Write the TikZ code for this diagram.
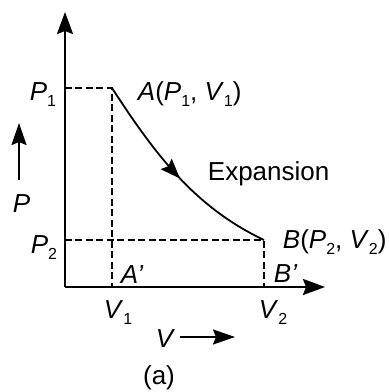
\documentclass[tikz,border=0pt]{standalone}
\usepackage{fontspec}
\setmainfont{Liberation Sans}
\usetikzlibrary{arrows.meta,decorations.markings}

\newcommand{\vsub}[2]{\textit{#1}\raisebox{-6pt}{\fontsize{16}{18}\selectfont #2}}

\begin{document}
\begin{tikzpicture}[x=10pt, y=10pt, line width=1.9pt,
  every node/.style={font=\fontsize{26}{30}\selectfont, inner sep=0pt},
  axis/.style={-{Stealth[length=22pt,width=16pt,inset=3pt]}, line width=2.2pt},
  guide/.style={dash pattern=on 7pt off 3.5pt, line width=2pt},
  pointer/.style={-{Stealth[length=22pt,width=15pt,inset=3pt]}, line width=2.1pt}]
  \useasboundingbox (-6.5,-10.5) rectangle (32.4,28.7);

  % Axes
  \coordinate (O) at (0,0);
  \coordinate (Ptop) at (0,27.5);
  \coordinate (Vend) at (26,0);
  \draw[axis] (O) -- (Ptop);
  \draw[axis] (O) -- (Vend);

  % States A and B
  \coordinate (A) at (4.7,19.9);
  \coordinate (B) at (19.9,4.7);
  \draw[guide] (O |- A) -- (A) -- (A |- O);
  \draw[guide] (O |- B) -- (B) -- (B |- O);

  % Expansion curve
  \draw[line width=1.8pt, postaction={decorate},
    decoration={markings, mark=at position 0.52 with {\arrow{Stealth[length=20pt,width=15pt,inset=3pt]}}}]
    (A) .. controls (9.3,12.8) and (13.2,7.9) .. (B);

  % Labels
  \node[anchor=base east] (lP1) at (-0.8,18.7) {\vsub{P}{1}};
  \node[anchor=base east] (lP2) at (-0.7,3.4) {\vsub{P}{2}};
  \node[anchor=base west] (lA) at (7.2,18.7) {\textit{A}(\vsub{P}{1}, \vsub{V}{1})};
  \node[anchor=base west] (lB) at (21.7,3.9) {\textit{B}(\vsub{P}{2}, \vsub{V}{2})};
  \node[anchor=base west] (lAp) at (5.5,0.4) {\textit{A'}};
  \node[anchor=base west] (lBp) at (20.8,0.5) {\textit{B'}};
  \node[anchor=base west] (lV1) at (3.8,-3.1) {\vsub{V}{1}};
  \node[anchor=base west] (lV2) at (19.3,-3.1) {\vsub{V}{2}};
  \node[anchor=base west] (exp) at (14.2,10.7) {Expansion};

  % Direction arrows
  \node[anchor=base west] (lP) at (-5.3,7.5) {\textit{P}};
  \coordinate (Pfrom) at (-4.6,10.7);
  \coordinate (Pto) at (-4.6,16.4);
  \draw[pointer] (Pfrom) -- (Pto);
  \node[anchor=base west] (lV) at (9.0,-6.0) {\textit{V}};
  \coordinate (Vfrom) at (11.5,-5.0);
  \coordinate (Vto) at (17.0,-5.0);
  \draw[pointer] (Vfrom) -- (Vto);

  \node (cap) at (9.4,-9.1) {(a)};
\end{tikzpicture}
\end{document}
